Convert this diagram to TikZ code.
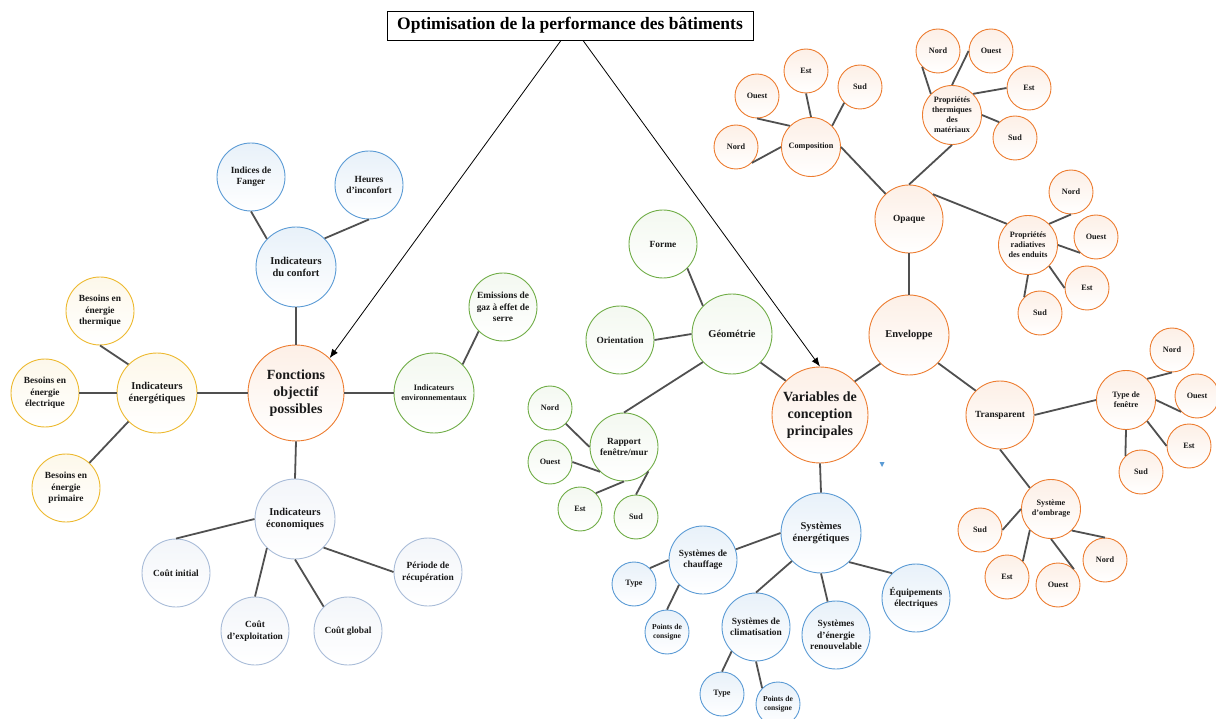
\documentclass[tikz,border=0pt]{standalone}
\usepackage{fontspec}
\setmainfont{Liberation Serif}
\usetikzlibrary{arrows.meta}
\definecolor{orgc}{HTML}{ED7D31}
\definecolor{bluc}{HTML}{5B9BD5}
\definecolor{yelc}{HTML}{EDB92F}
\definecolor{grnc}{HTML}{70AD47}
\definecolor{ecoc}{HTML}{A9BCD8}
\definecolor{linec}{HTML}{505050}
\tikzset{
  fA/.style={font=\fontsize{14}{17}\selectfont\bfseries},
  fB/.style={font=\fontsize{10.5}{12.5}\selectfont\bfseries},
  fC/.style={font=\fontsize{9.4}{11.5}\selectfont\bfseries},
  fD/.style={font=\fontsize{8.2}{10}\selectfont\bfseries},
  fE/.style={font=\fontsize{7.6}{9.5}\selectfont\bfseries},
  bub/.style={circle, line width=0.9pt, align=center, inner sep=0pt, text=black!90},
  rA/.style={minimum size=96pt},
  rB/.style={minimum size=80pt},
  rC/.style={minimum size=68pt},
  rD/.style={minimum size=59pt},
  rE/.style={minimum size=44pt},
  ora/.style={bub, draw=orgc, top color=orgc!12, bottom color=white},
  blu/.style={bub, draw=bluc, top color=bluc!14, bottom color=white},
  yel/.style={bub, draw=yelc, top color=yelc!10, bottom color=white},
  grn/.style={bub, draw=grnc, top color=grnc!8, bottom color=white},
  eco/.style={bub, draw=ecoc, top color=ecoc!14, bottom color=white},
  edge/.style={draw=linec, line width=1.8pt},
  arr/.style={draw=black, line width=0.8pt, -{Latex[length=9pt,width=7pt]}}
}
\begin{document}
\begin{tikzpicture}[x=1pt,y=-1pt]
\useasboundingbox (0,0) rectangle (1216,719);
% title
\node[draw, line width=0.9pt, minimum width=366pt, minimum height=29pt, inner sep=0pt,
  font=\fontsize{17.5}{20}\selectfont\bfseries] (title) at (570,25.5)
  {Optimisation de la performance des bâtiments};

% ---------- left : objective functions ----------
\node[ora, rA, fA] (fo) at (296,393) {Fonctions\\objectif\\possibles};
\node[blu, rB, fB] (conf) at (296,267) {Indicateurs\\du confort};
\node[blu, rC, fC] (fang) at (251,177) {Indices de\\Fanger};
\node[blu, rC, fC] (heur) at (369,185) {Heures\\d'inconfort};
\node[yel, rB, fB] (ene) at (157,393) {Indicateurs\\énergétiques};
\node[yel, rC, fC] (bth) at (100,311) {Besoins en\\énergie\\thermique};
\node[yel, rC, fC] (bel) at (45,393) {Besoins en\\énergie\\électrique};
\node[yel, rC, fC] (bpr) at (66,488) {Besoins en\\énergie\\primaire};
\node[grn, rB, fD] (env) at (434,393) {Indicateurs\\environnementaux};
\node[grn, rC, fC] (emi) at (503,307) {Emissions de\\gaz à effet de\\serre};
\node[eco, rB, fB] (eco) at (295,519) {Indicateurs\\économiques};
\node[eco, rC, fC] (ci) at (176,573) {Coût initial};
\node[eco, rC, fC] (cex) at (255,631) {Coût\\d'exploitation};
\node[eco, rC, fC] (cg) at (348,631) {Coût global};
\node[eco, rC, fC] (per) at (428,572) {Période de\\récupération};

% ---------- centre : design variables ----------
\node[ora, rA, fA] (var) at (820,415) {Variables de\\conception\\principales};
\node[grn, rB, fB] (geo) at (732,334) {Géométrie};
\node[grn, rC, fC] (forme) at (663,244) {Forme};
\node[grn, rC, fC] (ori) at (620,340) {Orientation};
\node[grn, rC, fC] (rap) at (624,447) {Rapport\\fenêtre/mur};
\node[grn, rE, fD] (gn) at (550,408) {Nord};
\node[grn, rE, fD] (go) at (550,462) {Ouest};
\node[grn, rE, fD] (ge) at (580,509) {Est};
\node[grn, rE, fD] (gs) at (636,517) {Sud};

\node[blu, rB, fB] (se) at (821,533) {Systèmes\\énergétiques};
\node[blu, rC, fC] (ch) at (703,560) {Systèmes de\\chauffage};
\node[blu, rE, fD] (cht) at (634,584) {Type};
\node[blu, rE, fE] (chp) at (667,632) {Points de\\consigne};
\node[blu, rC, fC] (cl) at (756,627) {Systèmes de\\climatisation};
\node[blu, rE, fD] (clt) at (722,694) {Type};
\node[blu, rE, fE] (clp) at (778,704) {Points de\\consigne};
\node[blu, rC, fC] (ren) at (836,635) {Systèmes\\d'énergie\\renouvelable};
\node[blu, rC, fC] (eq) at (916,598) {Équipements\\électriques};

% ---------- right : envelope ----------
\node[ora, rB, fB] (envl) at (909,335) {Enveloppe};
\node[ora, rC, fC] (opq) at (909,219) {Opaque};
\node[ora, rD, fD] (comp) at (811,147) {Composition};
\node[ora, rE, fD] (cn) at (736,147) {Nord};
\node[ora, rE, fD] (co) at (757,96) {Ouest};
\node[ora, rE, fD] (ce) at (806,71) {Est};
\node[ora, rE, fD] (cs) at (860,87) {Sud};
\node[ora, rD, fD] (th) at (952,115) {Propriétés\\thermiques\\des\\matériaux};
\node[ora, rE, fD] (tn) at (938,51) {Nord};
\node[ora, rE, fD] (to) at (991,51) {Ouest};
\node[ora, rE, fD] (te) at (1029,88) {Est};
\node[ora, rE, fD] (ts) at (1015,138) {Sud};
\node[ora, rD, fD] (rad) at (1028,245) {Propriétés\\radiatives\\des enduits};
\node[ora, rE, fD] (rn) at (1071,192) {Nord};
\node[ora, rE, fD] (ro) at (1096,237) {Ouest};
\node[ora, rE, fD] (re) at (1087,288) {Est};
\node[ora, rE, fD] (rs) at (1040,313) {Sud};
\node[ora, rC, fC] (tr) at (1000,415) {Transparent};
\node[ora, rD, fD] (tf) at (1126,400) {Type de\\fenêtre};
\node[ora, rE, fD] (fn) at (1172,350) {Nord};
\node[ora, rE, fD] (fwo) at (1197,396) {Ouest};
\node[ora, rE, fD] (fe) at (1189,446) {Est};
\node[ora, rE, fD] (fs) at (1141,472) {Sud};
\node[ora, rD, fD] (om) at (1051,509) {Système\\d'ombrage};
\node[ora, rE, fD] (os) at (980,530) {Sud};
\node[ora, rE, fD] (oe) at (1007,577) {Est};
\node[ora, rE, fD] (oo) at (1058,585) {Ouest};
\node[ora, rE, fD] (on) at (1105,560) {Nord};

% small blue marker
\fill[bluc] (879.5,462) -- (884.5,462) -- (882,467) -- cycle;

% ---------- connectors ----------
\draw[edge] (fo.north) -- (conf.south);
\draw[edge] (fo.south) -- (eco.north);
\draw[edge] (fo.west) -- (ene.east);
\draw[edge] (fo.east) -- (env.west);
\draw[edge] (conf.136) -- (fang.south);
\draw[edge] (conf.45) -- (heur.south);
\draw[edge] (ene.135) -- (bth.south);
\draw[edge] (ene.west) -- (bel.east);
\draw[edge] (ene.-135) -- (bpr.47);
\draw[edge] (env.45) -- (emi.-135);
\draw[edge] (eco.west) -- (ci.north);
\draw[edge] (eco.-134) -- (cex.north);
\draw[edge] (eco.south) -- (cg.135);
\draw[edge] (eco.-45) -- (per.west);

\draw[edge] (var.135) -- (geo.-45);
\draw[edge] (var.44) -- (envl.-135);
\draw[edge] (var.south) -- (se.north);
\draw[edge] (geo.136) -- (forme.-45);
\draw[edge] (geo.west) -- (ori.east);
\draw[edge] (geo.-136) -- (rap.north);
\draw[edge] (rap.west) -- (gn.-45);
\draw[edge] (rap.-134) -- (go.east);
\draw[edge] (rap.south) -- (ge.45);
\draw[edge] (rap.-45) -- (gs.north);

\draw[edge] (se.west) -- (ch.18);
\draw[edge] (ch.west) -- (cht.45);
\draw[edge] (ch.-134) -- (chp.north);
\draw[edge] (se.-136) -- (cl.north);
\draw[edge] (cl.-135) -- (clt.north);
\draw[edge] (cl.south) -- (clp.135);
\draw[edge] (se.south) -- (ren.104);
\draw[edge] (se.-46) -- (eq.134);

\draw[edge] (envl.north) -- (opq.south);
\draw[edge] (envl.-44) -- (tr.135);
\draw[edge] (opq.133) -- (comp.east);
\draw[edge] (opq.north) -- (th.south);
\draw[edge] (opq.46) -- (rad.135);
\draw[edge] (comp.west) -- (cn.-45);
\draw[edge] (comp.135) -- (co.south);
\draw[edge] (comp.north) -- (ce.south);
\draw[edge] (comp.45) -- (cs.-135);
\draw[edge] (th.135) -- (tn.-135);
\draw[edge] (th.north) -- (to.west);
\draw[edge] (th.45) -- (te.west);
\draw[edge] (th.east) -- (ts.135);
\draw[edge] (rad.45) -- (rn.south);
\draw[edge] (rad.east) -- (ro.-135);
\draw[edge] (rad.-45) -- (re.west);
\draw[edge] (rad.south) -- (rs.135);
\draw[edge] (tr.east) -- (tf.west);
\draw[edge] (tr.south) -- (om.135);
\draw[edge] (tf.45) -- (fn.south);
\draw[edge] (tf.east) -- (fwo.-135);
\draw[edge] (tf.-45) -- (fe.west);
\draw[edge] (tf.south) -- (fs.134);
\draw[edge] (om.west) -- (os.east);
\draw[edge] (om.-135) -- (oe.45);
\draw[edge] (om.south) -- (oo.45);
\draw[edge] (om.-46) -- (on.north);

% arrows from title
\draw[arr] ([xshift=-9pt]title.south) -- (fo.46);
\draw[arr] ([xshift=13pt]title.south) -- (var.north);
\end{tikzpicture}
\end{document}
